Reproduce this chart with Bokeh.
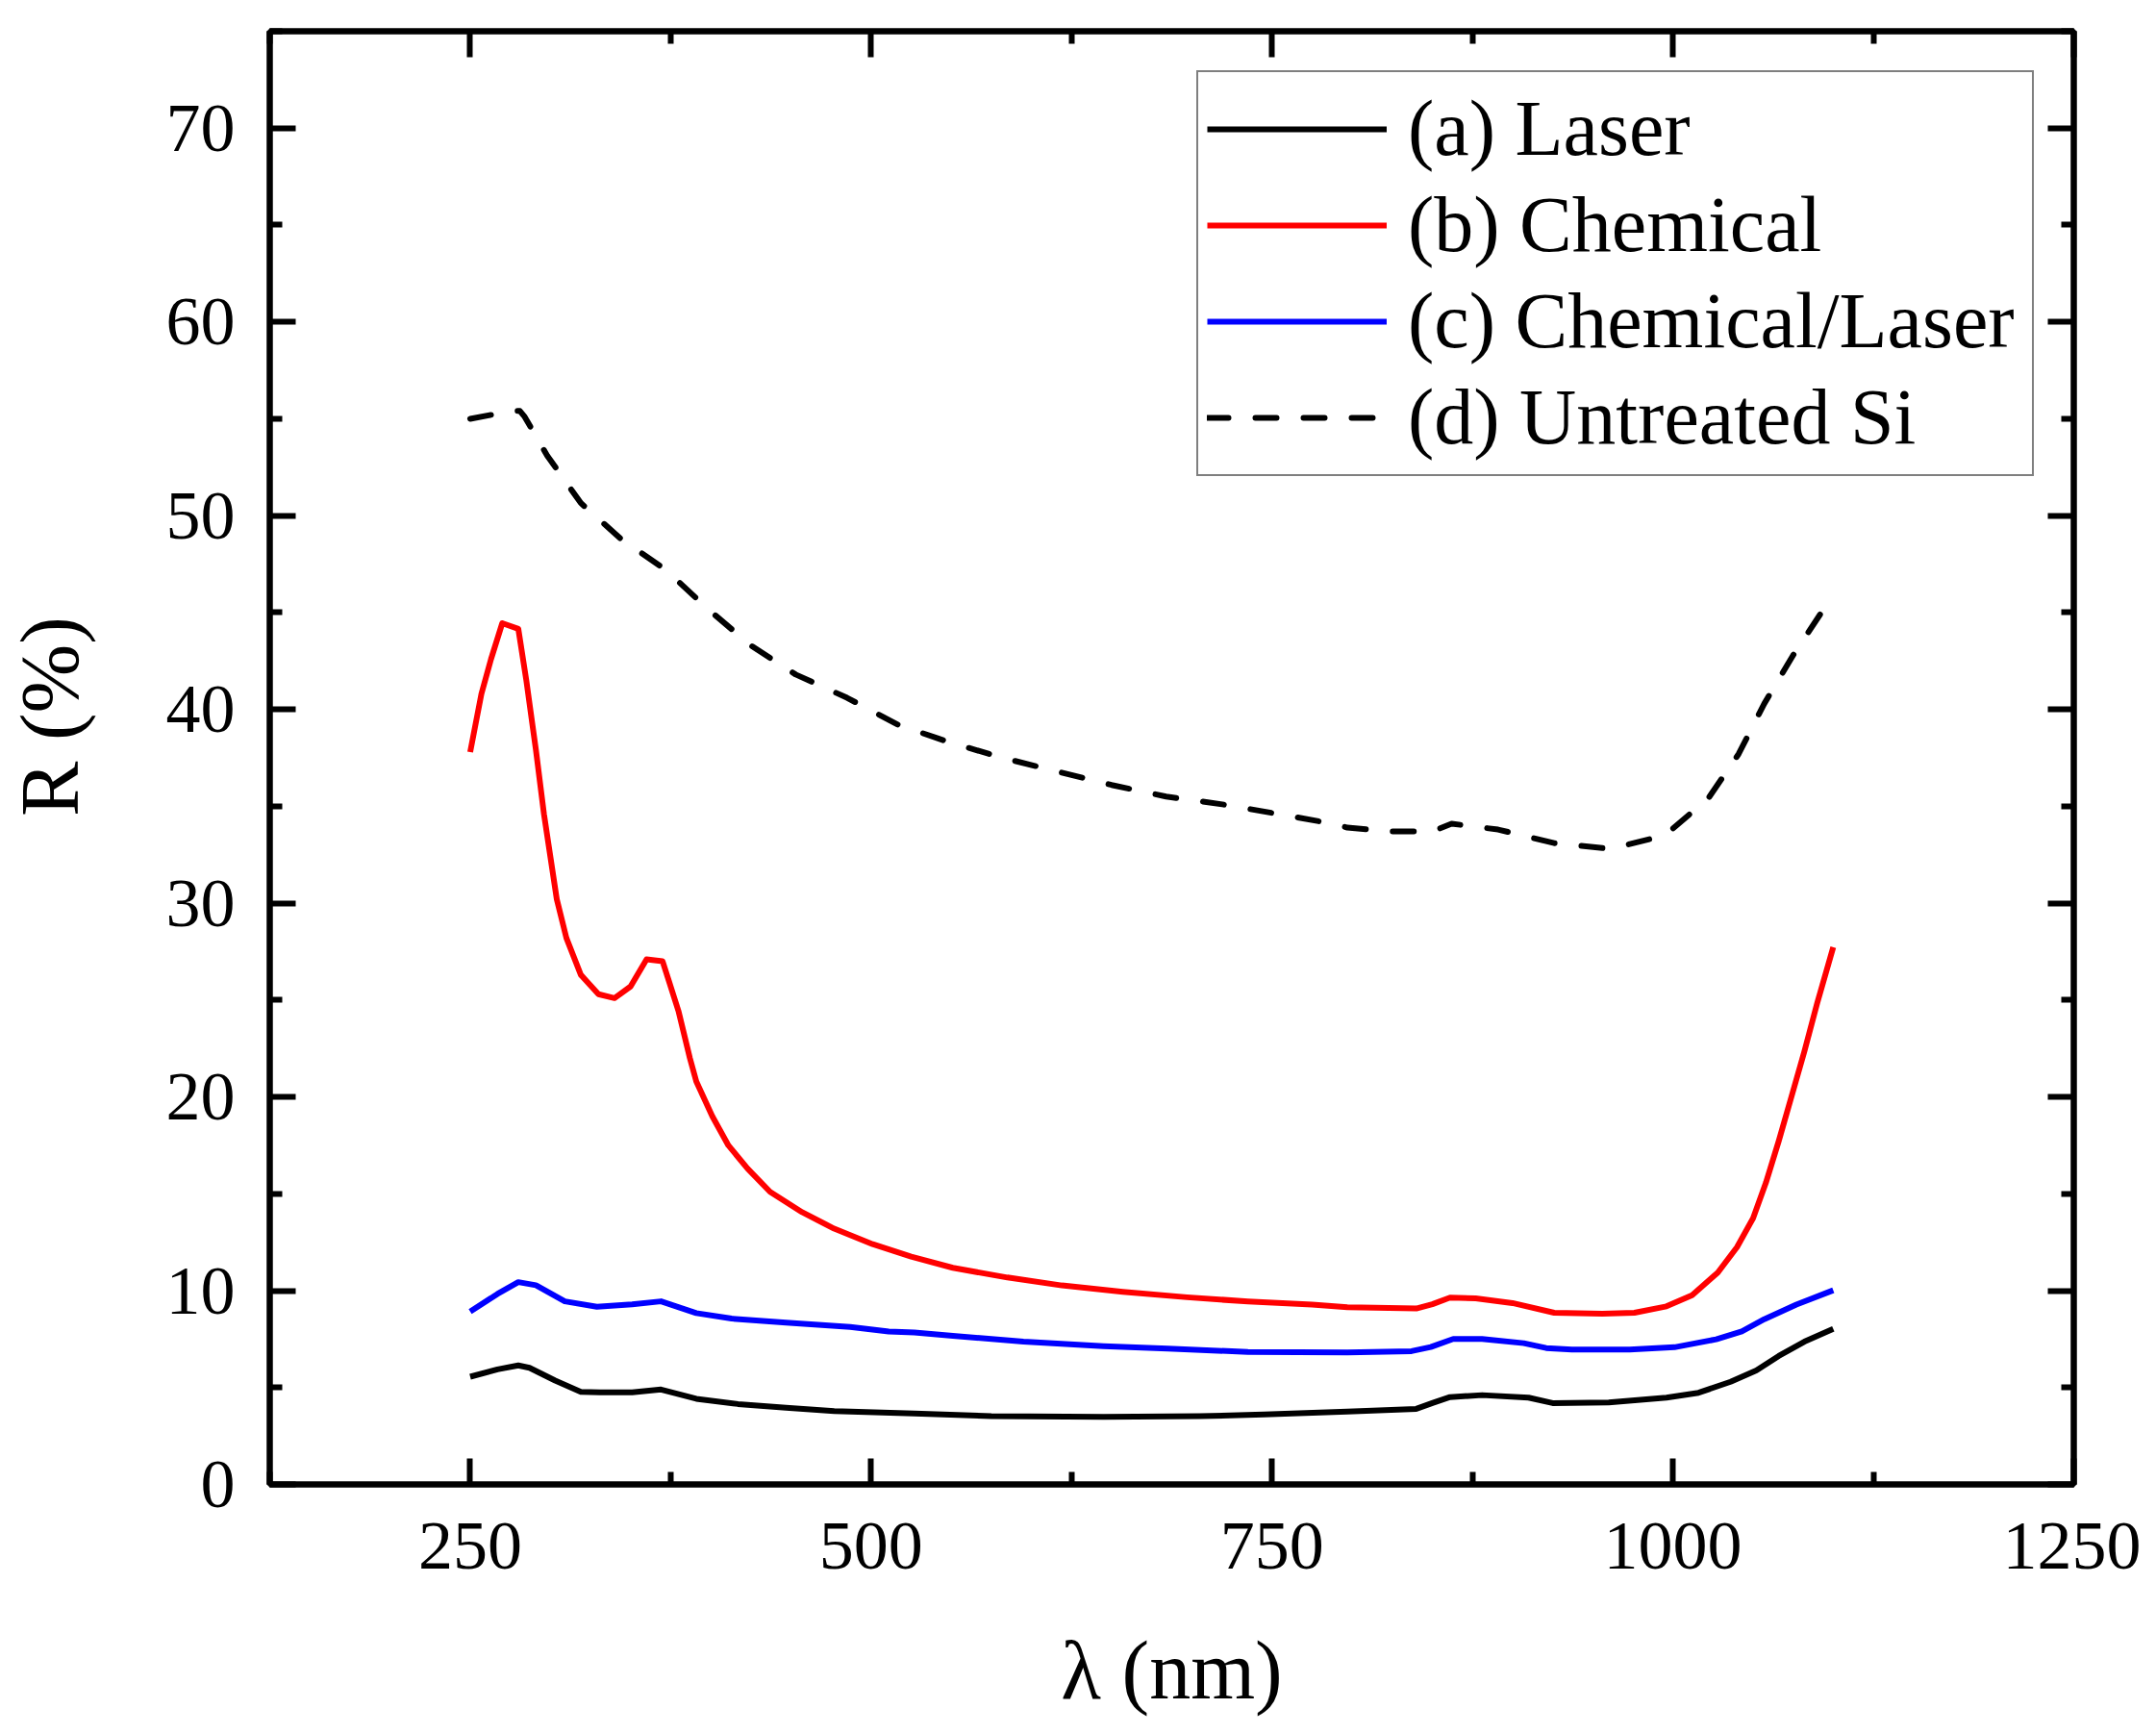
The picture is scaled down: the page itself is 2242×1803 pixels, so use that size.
from bokeh.plotting import figure
from bokeh.models import Range1d, LinearAxis, FixedTicker, Legend, LegendItem, CustomLabelingPolicy
from bokeh.embed import file_html
from bokeh.resources import INLINE

# ---- data ----
wl_a = [250, 267, 280, 287, 303, 319, 331, 351, 369, 391, 417, 447, 477, 527, 575, 645, 705,
        745, 797, 840, 850, 861, 881, 910, 925, 960, 996, 1016, 1036, 1052, 1066, 1082, 1100]
R_a = [5.56, 5.94, 6.14, 6.02, 5.36, 4.78, 4.75, 4.75, 4.90, 4.42, 4.15, 3.96, 3.79, 3.66, 3.53, 3.49, 3.52,
       3.61, 3.76, 3.90, 4.20, 4.51, 4.61, 4.48, 4.20, 4.23, 4.48, 4.73, 5.30, 5.88, 6.63, 7.37, 8.03]

wl_b = [250, 257, 263, 270, 280, 285, 291, 296, 300, 304, 310, 319, 330, 340, 350, 360, 370, 380,
        387, 391, 401, 411, 423, 437, 457, 477, 501, 525, 551, 585, 619, 657, 697, 735, 775, 797,
        840, 850, 861, 877, 900, 926, 956, 976, 996, 1012, 1028, 1040, 1050, 1058, 1066, 1074,
        1082, 1090, 1100]
R_b = [37.8, 40.8, 42.6, 44.45, 44.16, 41.5, 37.9, 34.6, 32.4, 30.2, 28.2, 26.3, 25.3, 25.1, 25.7, 27.1, 27.0, 24.4,
       22.0, 20.8, 19.0, 17.5, 16.3, 15.1, 14.05, 13.2, 12.4, 11.76, 11.18, 10.68, 10.27, 9.94, 9.66, 9.44, 9.28, 9.15,
       9.08, 9.30, 9.64, 9.60, 9.36, 8.86, 8.81, 8.86, 9.19, 9.77, 10.93, 12.25, 13.74, 15.57, 17.72, 20.03,
       22.35, 24.84, 27.73]

wl_c = [250, 267, 280, 291, 309, 329, 351, 369, 391, 413, 447, 487, 511, 527, 551, 595, 645, 685,
        735, 797, 837, 849, 863, 881, 907, 921, 937, 973, 1001, 1027, 1043, 1057, 1077, 1100]
R_c = [8.92, 9.83, 10.44, 10.28, 9.45, 9.17, 9.29, 9.45, 8.84, 8.56, 8.35, 8.13, 7.89, 7.84, 7.67, 7.37, 7.13, 7.01,
       6.84, 6.81, 6.88, 7.09, 7.51, 7.51, 7.29, 7.04, 6.96, 6.96, 7.08, 7.49, 7.90, 8.53, 9.28, 10.02]

wl_d = [250, 276, 281, 284, 298, 319, 344, 372, 398, 425, 453, 485, 517, 549, 582, 616, 650, 684,
        719, 754, 788, 797, 823, 850, 862, 891, 926, 961, 995, 1022, 1041, 1057, 1075, 1095, 1100]
R_d = [55.0, 55.4, 55.4, 55.1, 53.1, 50.65, 48.8, 47.2, 45.2, 43.3, 41.8, 40.6, 39.2, 38.3, 37.5, 36.8, 36.1, 35.5,
       35.1, 34.6, 34.1, 33.9, 33.7, 33.7, 34.1, 33.8, 33.1, 32.8, 33.5, 35.4, 37.7, 40.3, 42.8, 45.3, 45.9]

labels = ["(a) Laser", "(b) Chemical", "(c) Chemical/Laser", "(d) Untreated Si"]
x_title = "λ (nm)"
y_title = "R (%)"
x_major = [250, 500, 750, 1000, 1250]
x_minor = [125, 375, 625, 875, 1125]
y_major = [0, 10, 20, 30, 40, 50, 60, 70]
y_minor = [5, 15, 25, 35, 45, 55, 65, 75]

FONT = "Liberation Serif"

p = figure(width=2226, height=1787, output_backend="svg", toolbar_location=None,
           x_range=Range1d(125, 1250), y_range=Range1d(0, 75),
           min_border_left=280, min_border_right=70, min_border_top=32, min_border_bottom=243)
p.background_fill_color = "white"
p.border_fill_color = "white"
p.grid.visible = False
p.outline_line_color = "black"
p.outline_line_width = 6


def style_axis(ax, ticks, minor, show_labels=True):
    ax.ticker = FixedTicker(ticks=ticks, minor_ticks=minor)
    ax.axis_line_width = 6
    ax.axis_line_color = "black"
    ax.major_tick_line_width = 6
    ax.minor_tick_line_width = 6
    ax.major_tick_in = 27
    ax.major_tick_out = 0
    ax.minor_tick_in = 13
    ax.minor_tick_out = 0
    ax.major_label_text_font = FONT
    ax.major_label_text_color = "black"
    if show_labels:
        ax.major_label_text_font_size = "72px"
    else:
        # mirror axis: ticks only, no labels drawn
        ax.major_label_text_font_size = "1px"
        ax.major_label_policy = CustomLabelingPolicy(code="return []")
        ax.major_label_standoff = 0


xa = p.xaxis[0]
style_axis(xa, x_major, x_minor)
xa.major_label_standoff = 40
xa.axis_label = x_title
xa.axis_label_text_font = FONT
xa.axis_label_text_font_size = "86px"
xa.axis_label_text_font_style = "normal"
xa.axis_label_text_color = "black"
xa.axis_label_standoff = 55

ya = p.yaxis[0]
style_axis(ya, y_major, y_minor)
ya.major_label_standoff = 36
ya.axis_label = "\u00a0\u00a0\u00a0\u00a0" + y_title
ya.axis_label_text_font = FONT
ya.axis_label_text_font_size = "86px"
ya.axis_label_text_font_style = "normal"
ya.axis_label_text_color = "black"
ya.axis_label_standoff = 70

top = LinearAxis()
style_axis(top, x_major, x_minor, show_labels=False)
p.add_layout(top, "above")
right = LinearAxis()
style_axis(right, y_major, y_minor, show_labels=False)
p.add_layout(right, "right")

ra = p.line(wl_a, R_a, line_color="black", line_width=6, line_join="round")
rb = p.line(wl_b, R_b, line_color="#FF0000", line_width=6, line_join="round")
rc = p.line(wl_c, R_c, line_color="#0000FF", line_width=6, line_join="round")
rd = p.line(wl_d, R_d, line_color="black", line_width=6, line_dash="22 28", line_cap="round",
            line_join="round")

legend = Legend(items=[LegendItem(label=labels[0], renderers=[ra]),
                       LegendItem(label=labels[1], renderers=[rb]),
                       LegendItem(label=labels[2], renderers=[rc]),
                       LegendItem(label=labels[3], renderers=[rd])],
                location="top_right", margin=41, padding=9, spacing=0,
                glyph_width=187, glyph_height=100, label_height=100, label_width=640,
                label_standoff=22, label_text_font=FONT, label_text_font_size="82px",
                label_text_color="black", border_line_color="black", border_line_width=2,
                background_fill_color="white", background_fill_alpha=1.0)
p.add_layout(legend, "center")

open("out.html", "w").write(file_html(p, INLINE))
